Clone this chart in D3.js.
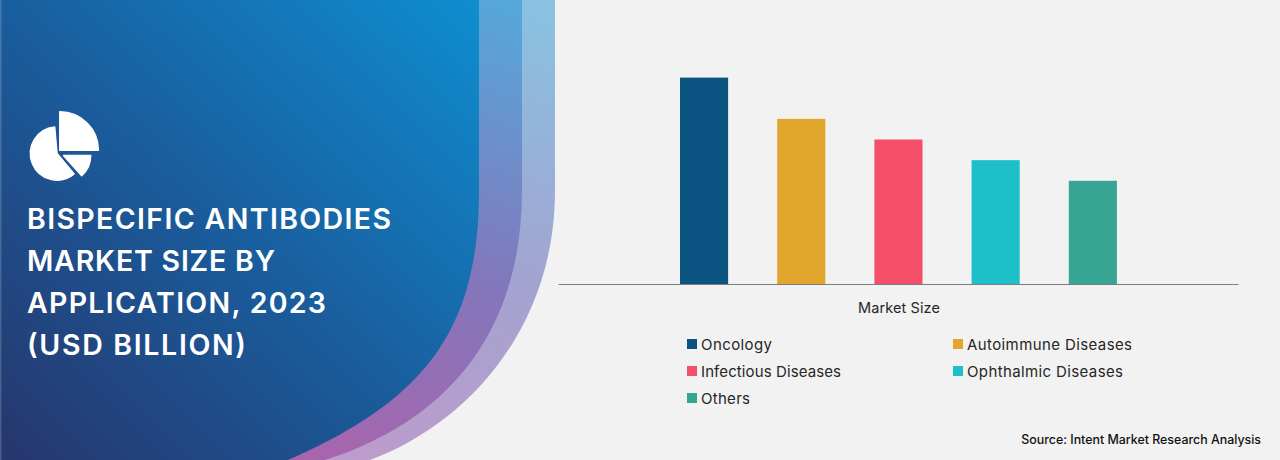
<!DOCTYPE html>
<html><head><meta charset="utf-8">
<script src="https://cdn.jsdelivr.net/npm/d3@7/dist/d3.min.js"></script>
<style>
html,body{margin:0;padding:0;background:#f2f2f2;overflow:hidden}
svg{display:block}
text{font-family:"Inter","Open Sans",sans-serif}
</style></head><body>
<script>
const categories=["Oncology","Autoimmune Diseases","Infectious Diseases","Ophthalmic Diseases","Others"];
const values=[10,8,7,6,5];
const colors=["#0b5482","#e2a62c","#f44f68","#1dbfc8","#37a594"];
const groupLabel="Market Size";
const titleLines=["BISPECIFIC ANTIBODIES","MARKET SIZE BY","APPLICATION, 2023","(USD BILLION)"];
const titleWidths=[364,248,299,219];
const legendWidths=[71,165,140,156,49];
const source="Source: Intent Market Research Analysis";

const W=1280,H=460;
const svg=d3.select("body").append("svg").attr("width",W).attr("height",H);
svg.append("rect").attr("width",W).attr("height",H).attr("fill","#f2f2f2");
const defs=svg.append("defs");
function grad(id,x1,y1,x2,y2,stops){
  const g=defs.append("linearGradient").attr("id",id).attr("gradientUnits","userSpaceOnUse")
    .attr("x1",x1).attr("y1",y1).attr("x2",x2).attr("y2",y2);
  stops.forEach(s=>g.append("stop").attr("offset",s[0]).attr("stop-color",s[1]));
}
grad("gMain",40,470,500,0,[[0,"#26386f"],[.45,"#1a5c9c"],[1,"#0e90d2"]]);
grad("gMid",330,460,500,0,[[0,"#a765ae"],[.45,"#8377bb"],[1,"#55a8da"]]);
grad("gOut",370,460,540,0,[[0,"#bc9ccb"],[.45,"#a3a3d0"],[1,"#88c2e2"]]);

function panel(p,fill){
  const d=d3.path();
  d.moveTo(0,0);
  d.lineTo(p[0],0);
  d.lineTo(p[0],p[1]);
  d.bezierCurveTo(p[0],p[2],p[3],p[4],p[5],H);
  d.lineTo(0,H);
  d.closePath();
  svg.append("path").attr("fill",fill).attr("d",d.toString());
}
panel([555,190,330,465,425,370],"url(#gOut)");
panel([522,190,330,450,420,325],"url(#gMid)");
panel([479,190,330,425,400,288],"url(#gMain)");
svg.append("rect").attr("width",1.5).attr("height",H).attr("fill","#fff").attr("opacity",.18);

// pie icon
const icon=svg.append("g").attr("fill","#fff").attr("stroke","#fff").attr("stroke-width",1.5).attr("stroke-linejoin","round");
const arc=d3.arc();
const deg=Math.PI/180;
icon.append("path").attr("transform","translate(57,153.5)").attr("d",arc({innerRadius:0,outerRadius:26.6,startAngle:140*deg,endAngle:355*deg}));
icon.append("path").attr("transform","translate(59.8,150.3)").attr("d",arc({innerRadius:0,outerRadius:38.6,startAngle:0,endAngle:90*deg}));
icon.append("path").attr("transform","translate(63.5,155.5)").attr("d",arc({innerRadius:0,outerRadius:27.2,startAngle:90*deg,endAngle:138*deg}));

// bars
const baseY=284;
const x=d3.scaleBand().domain(categories).range([655.7,1141.2]).paddingInner(.505).paddingOuter(.25);
const y=d3.scaleLinear().domain([0,10]).range([baseY,77.6]);
svg.append("g").selectAll("rect").data(categories).join("rect")
  .attr("x",d=>x(d)).attr("width",x.bandwidth())
  .attr("y",(d,i)=>y(values[i])).attr("height",(d,i)=>baseY-y(values[i]))
  .attr("fill",(d,i)=>colors[i]);
const axisScale=d3.scaleBand().domain([groupLabel]).range([558,1238]);
const ax=svg.append("g").attr("transform",`translate(0,${baseY})`).call(d3.axisBottom(axisScale).tickSize(0).tickPadding(19));
ax.select(".domain").attr("stroke","#7f7f7f").attr("stroke-width",1.2);
ax.selectAll("text").attr("font-size",14.5).attr("letter-spacing",.1).attr("fill","#262626").attr("dx",1);

// legend
const legendX=[687,953],legendY=[344,371,398];
const lg=svg.append("g").selectAll("g").data(categories).join("g")
  .attr("transform",(d,i)=>`translate(${legendX[i%2]},${legendY[Math.floor(i/2)]})`);
lg.append("rect").attr("y",-5).attr("width",10).attr("height",10).attr("fill",(d,i)=>colors[i]);
lg.append("text").attr("x",14).attr("y",5.5).attr("font-size",15).attr("fill","#262626")
  .attr("textLength",(d,i)=>legendWidths[i]).attr("lengthAdjust","spacing").text(d=>d);

// title
svg.append("g").selectAll("text").data(titleLines).join("text")
  .attr("x",27).attr("y",(d,i)=>229+i*42)
  .attr("font-size",28.5).attr("font-weight",600).attr("fill","#fff")
  .attr("textLength",(d,i)=>titleWidths[i]).attr("lengthAdjust","spacing").text(d=>d);
svg.append("text").attr("x",1261).attr("y",444).attr("text-anchor","end")
  .attr("font-size",12.4).attr("font-weight",500).attr("fill","#111").text(source);
</script></body></html>
